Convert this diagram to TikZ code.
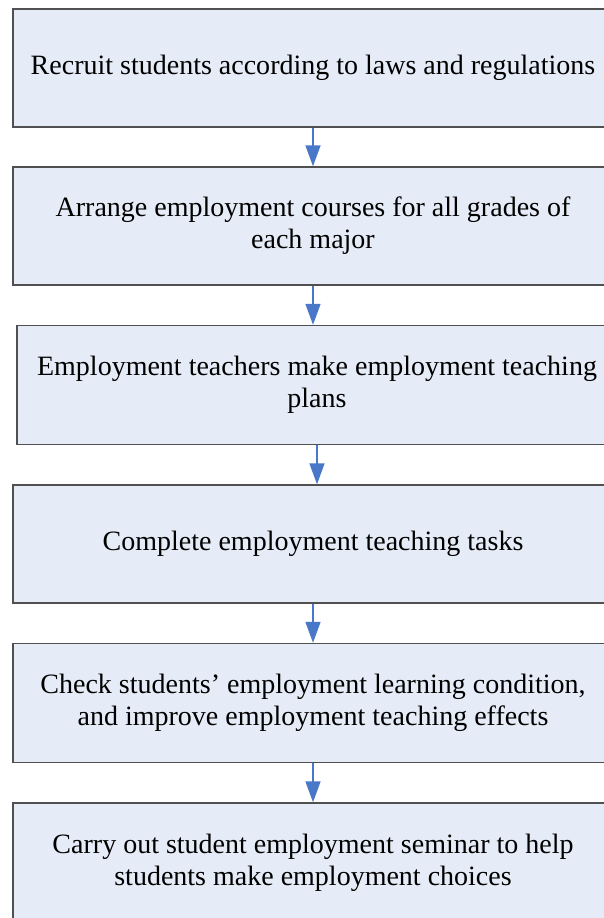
\documentclass[tikz,border=0pt]{standalone}
\usepackage{fontspec}
\setmainfont{Liberation Serif}
\usetikzlibrary{arrows.meta}
\definecolor{boxfill}{HTML}{E6ECF7}
\definecolor{boxline}{HTML}{505050}
\definecolor{flowblue}{HTML}{4A78C8}

\begin{document}
\begin{tikzpicture}[x=1pt, y=-1pt,
  stepbox/.style={draw=boxline, line width=1.4pt, fill=boxfill, minimum width=600pt,
    inner sep=0pt, align=center, font=\fontsize{28}{32}\selectfont},
  flow/.style={draw=flowblue, line width=1.5pt, -{Triangle[length=21pt, width=15pt]}}]
\clip (0,0) rectangle (604,918);
\node[stepbox, minimum height=118pt] (recruit) at (313,68) {Recruit students according to laws and regulations};
\node[stepbox, minimum height=118pt] (arrange) at (313,226) {Arrange employment courses for all grades of\\each major};
\node[stepbox, minimum height=119pt] (plans) at (317,385) {Employment teachers make employment teaching\\plans};
\node[stepbox, minimum height=118pt] (complete) at (313,544) {Complete employment teaching tasks};
\node[stepbox, minimum height=119pt] (check) at (313,703) {Check students' employment learning condition,\\and improve employment teaching effects};
\node[stepbox, minimum height=120pt] (seminar) at (313,863) {Carry out student employment seminar to help\\students make employment choices};
\draw[flow] (recruit.south) -- (arrange.north);
\draw[flow] (arrange.south) -- (arrange.south |- plans.north);
\draw[flow] (plans.south) -- (plans.south |- complete.north);
\draw[flow] (complete.south) -- (check.north);
\draw[flow] (check.south) -- (seminar.north);
\end{tikzpicture}
\end{document}
